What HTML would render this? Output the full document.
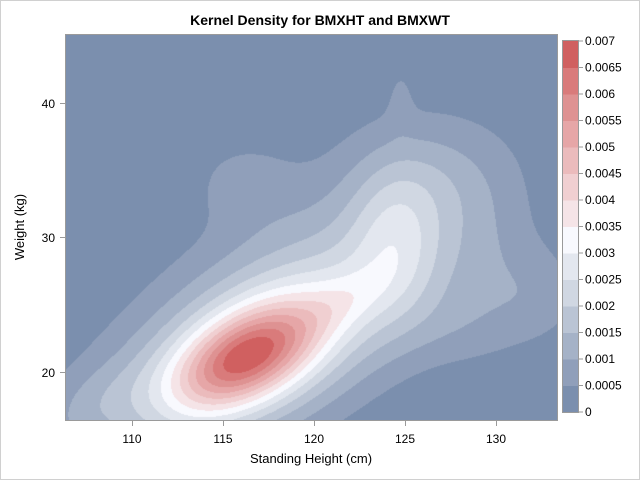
<!DOCTYPE html>
<html><head><meta charset="utf-8"><style>
html,body{margin:0;padding:0;background:#fff;}
#w{position:relative;width:640px;height:480px;overflow:hidden;font-family:"Liberation Sans",Arial,sans-serif;}
#bd{position:absolute;left:0;top:0;width:638px;height:478px;border:1px solid #d0d0d0;}
.t{position:absolute;font-size:12px;color:#000;white-space:nowrap;}
canvas{position:absolute;}
</style></head><body><div id="w">
<div id="bd"></div>
<div class="t" style="left:0;width:640px;top:12px;text-align:center;font-weight:bold;font-size:14px;">Kernel Density for BMXHT and BMXWT</div>
<canvas id="c" width="492" height="386" style="left:65px;top:34px;"></canvas>
<svg style="position:absolute;left:0;top:0" width="640" height="480">
<rect x="65.5" y="34.5" width="492" height="386" fill="none" stroke="#9a9a9a"/>
<g stroke="#9a9a9a">
<line x1="132.5" y1="421" x2="132.5" y2="426"/><line x1="223.5" y1="421" x2="223.5" y2="426"/>
<line x1="314.5" y1="421" x2="314.5" y2="426"/><line x1="405.5" y1="421" x2="405.5" y2="426"/>
<line x1="496.5" y1="421" x2="496.5" y2="426"/>
<line x1="60" y1="103.5" x2="65" y2="103.5"/><line x1="60" y1="237.5" x2="65" y2="237.5"/>
<line x1="60" y1="372.5" x2="65" y2="372.5"/>
</g>
<g id="cb"></g>
<g font-family="Liberation Sans, Arial, sans-serif" font-size="12" fill="#000">
<text x="132" y="443" text-anchor="middle">110</text><text x="223" y="443" text-anchor="middle">115</text>
<text x="314" y="443" text-anchor="middle">120</text><text x="405" y="443" text-anchor="middle">125</text>
<text x="496" y="443" text-anchor="middle">130</text>
<text x="55" y="108" text-anchor="end">40</text><text x="55" y="242" text-anchor="end">30</text>
<text x="55" y="377" text-anchor="end">20</text>
<text x="311" y="463" text-anchor="middle" font-size="13">Standing Height (cm)</text>
<text transform="translate(24,227) rotate(-90)" text-anchor="middle" font-size="13">Weight (kg)</text>
<g id="cbt"></g>
</g>
</svg>
</div>
<script>
(function(){
var cols=["#7b8fae","#909fba","#a5b2c7","#bac4d4","#d0d7e2","#e3e7ef","#f8f9fe","#f5e4e7","#f0cfd1","#ebbbbc","#e6a6a7","#de9292","#d97b7b","#d06060"];
var ns="http://www.w3.org/2000/svg";
var cb=document.getElementById("cb"),cbt=document.getElementById("cbt");
var y0=41,y1=412,h=(y1-y0)/14;
for(var i=0;i<14;i++){var r=document.createElementNS(ns,"rect");r.setAttribute("x",563);r.setAttribute("y",y1-(i+1)*h);r.setAttribute("width",15);r.setAttribute("height",h+0.5);r.setAttribute("fill",cols[i]);cb.appendChild(r);}
var fr=document.createElementNS(ns,"rect");fr.setAttribute("x",562.5);fr.setAttribute("y",40.5);fr.setAttribute("width",16);fr.setAttribute("height",372);fr.setAttribute("fill","none");fr.setAttribute("stroke","#9a9a9a");cb.appendChild(fr);
var labs=["0","0.0005","0.001","0.0015","0.002","0.0025","0.003","0.0035","0.004","0.0045","0.005","0.0055","0.006","0.0065","0.007"];
for(var i=0;i<15;i++){var y=y1-i*h;var l=document.createElementNS(ns,"line");l.setAttribute("x1",578);l.setAttribute("x2",583);l.setAttribute("y1",y);l.setAttribute("y2",y);l.setAttribute("stroke","#9a9a9a");cb.appendChild(l);
var t=document.createElementNS(ns,"text");t.setAttribute("x",585);t.setAttribute("y",y+4);t.textContent=labs[i];cbt.appendChild(t);}
function g(x,y,cx,cy,a,su,sv,ang){var dx=x-cx,dy=y-cy,c=Math.cos(ang),s=Math.sin(ang);var u=dx*c-dy*s,v=dx*s+dy*c;return a*Math.exp(-0.5*(u*u/(su*su)+v*v/(sv*sv)));}
var cv=document.getElementById("c"),ctx=cv.getContext("2d");
var img=ctx.createImageData(492,386);
var rgb=cols.map(function(c){return [parseInt(c.substr(1,2),16),parseInt(c.substr(3,2),16),parseInt(c.substr(5,2),16)];});
var A=0.5;
for(var py=0;py<386;py++)for(var px=0;px<492;px++){
var x=px+65,y=py+34;
var d=g(x,y,245,357,0.0040,55,29,A)+g(x,y,255,352,0.0026,115,54,A)
+g(x,y,395,240,0.0014,33,55,0)+g(x,y,330,250,0.0008,140,70,0.6)
+g(x,y,345,300,0.0006,35,18,A)
+g(x,y,400,95,0.00035,9,25,0)+g(x,y,240,180,0.0005,35,30,0)
+g(x,y,540,295,0.0006,35,35,0)+g(x,y,440,180,0.0006,50,40,0)
+g(x,y,480,260,0.0005,40,50,0)+g(x,y,465,330,0.0004,45,30,0)
+g(x,y,90,405,0.0005,40,25,0.5);
var k=Math.floor(d/0.0005);if(k>13)k=13;if(k<0)k=0;
var o=(py*492+px)*4;img.data[o]=rgb[k][0];img.data[o+1]=rgb[k][1];img.data[o+2]=rgb[k][2];img.data[o+3]=255;}
ctx.putImageData(img,0,0);
})();
</script>
</body></html>
